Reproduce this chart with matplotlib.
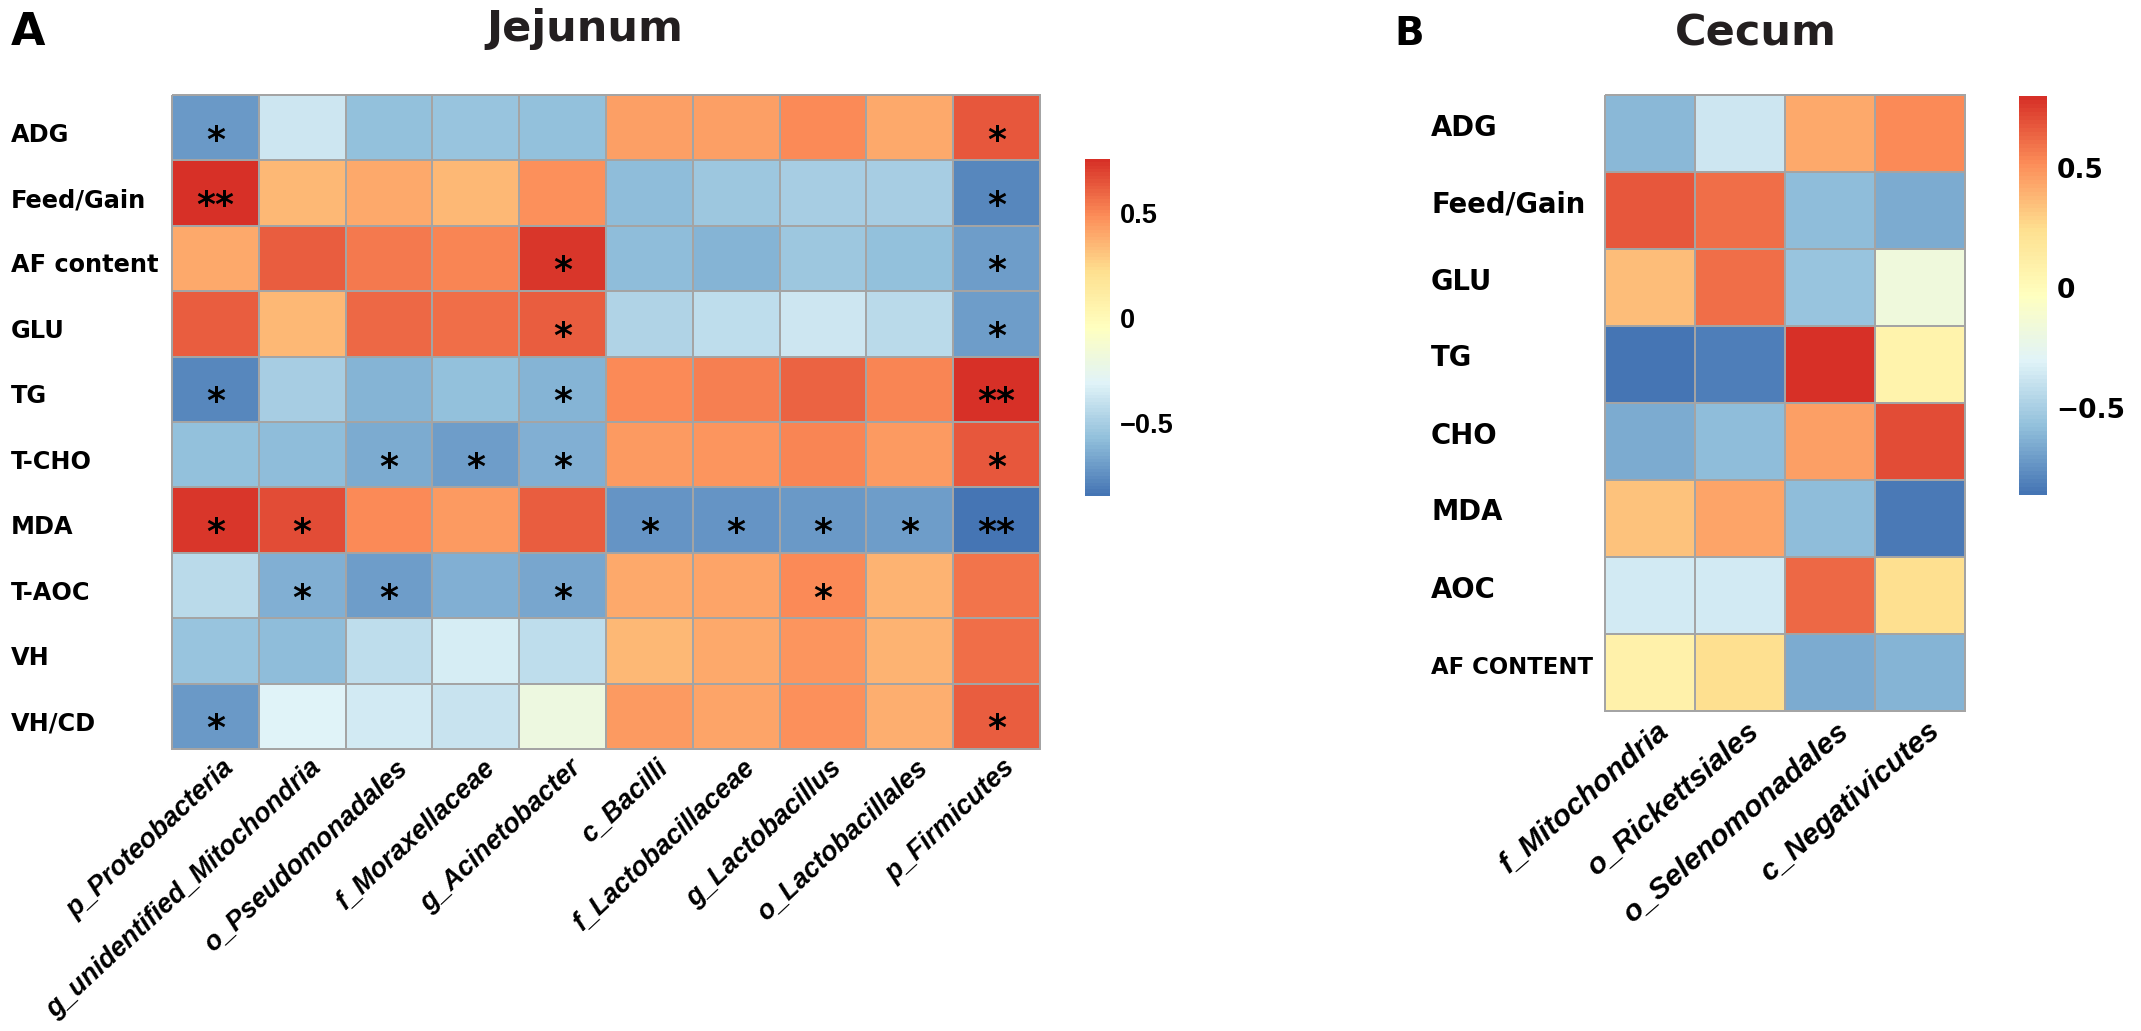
import matplotlib.pyplot as plt
import numpy as np
from matplotlib.colors import LinearSegmentedColormap
from matplotlib.transforms import offset_copy, blended_transform_factory
from matplotlib.ticker import FixedLocator, FuncFormatter

# ---- data: correlation (r) between host indices and bacterial taxa ----
jej_rows = ['ADG', 'Feed/Gain', 'AF content', 'GLU', 'TG', 'T-CHO', 'MDA',
            'T-AOC', 'VH', 'VH/CD']
jej_cols = ['p_Proteobacteria', 'g_unidentified_Mitochondria', 'o_Pseudomonadales',
            'f_Moraxellaceae', 'g_Acinetobacter', 'c_Bacilli', 'f_Lactobacillaceae',
            'g_Lactobacillus', 'o_Lactobacillales', 'p_Firmicutes']
jej_r = [
    [-0.72, -0.38, -0.575, -0.55, -0.57, 0.43, 0.43, 0.50, 0.40, 0.64],
    [0.76, 0.355, 0.40, 0.355, 0.48, -0.59, -0.535, -0.50, -0.51, -0.78],
    [0.40, 0.62, 0.545, 0.51, 0.73, -0.59, -0.61, -0.535, -0.575, -0.705],
    [0.625, 0.355, 0.59, 0.58, 0.62, -0.466, -0.43, -0.375, -0.446, -0.69],
    [-0.78, -0.497, -0.61, -0.575, -0.61, 0.49, 0.53, 0.60, 0.515, 0.75],
    [-0.57, -0.585, -0.645, -0.70, -0.635, 0.45, 0.455, 0.51, 0.445, 0.635],
    [0.74, 0.67, 0.50, 0.44, 0.625, -0.737, -0.73, -0.72, -0.70, -0.85],
    [-0.446, -0.625, -0.705, -0.625, -0.67, 0.39, 0.42, 0.50, 0.37, 0.56],
    [-0.545, -0.59, -0.425, -0.345, -0.43, 0.355, 0.395, 0.46, 0.37, 0.57],
    [-0.71, -0.31, -0.36, -0.395, -0.20, 0.445, 0.41, 0.48, 0.385, 0.62],
]
jej_sig = [
    ['*', '', '', '', '', '', '', '', '', '*'],
    ['**', '', '', '', '', '', '', '', '', '*'],
    ['', '', '', '', '*', '', '', '', '', '*'],
    ['', '', '', '', '*', '', '', '', '', '*'],
    ['*', '', '', '', '*', '', '', '', '', '**'],
    ['', '', '*', '*', '*', '', '', '', '', '*'],
    ['*', '*', '', '', '', '*', '*', '*', '*', '**'],
    ['', '*', '*', '', '*', '', '', '*', '', ''],
    ['', '', '', '', '', '', '', '', '', ''],
    ['*', '', '', '', '', '', '', '', '', '*'],
]

cec_rows = ['ADG', 'Feed/Gain', 'GLU', 'TG', 'CHO', 'MDA', 'AOC', 'AF CONTENT']
cec_cols = ['f_Mitochondria', 'o_Rickettsiales', 'o_Selenomonadales', 'c_Negativicutes']
cec_r = [
    [-0.61, -0.37, 0.43, 0.53],
    [0.67, 0.61, -0.58, -0.66],
    [0.354, 0.61, -0.56, -0.17],
    [-0.86, -0.82, 0.80, 0.08],
    [-0.65, -0.58, 0.46, 0.71],
    [0.35, 0.45, -0.59, -0.83],
    [-0.36, -0.35, 0.63, 0.25],
    [0.10, 0.24, -0.66, -0.62],
]

cbar_ticks = [-0.5, 0, 0.5]

# pheatmap default palette: rev(brewer RdYlBu, 7) -> 100 colours
pal = ['#4575B4', '#91BFDB', '#E0F3F8', '#FFFFBF', '#FEE090', '#FC8D59', '#D73027']
cmap = LinearSegmentedColormap.from_list('rdylbu7', pal, N=100)

W, H, DPI = 2141, 1031, 100
fig = plt.figure(figsize=(W / DPI, H / DPI), dpi=DPI)
BOLD = 'DejaVu Sans'
ARIAL = 'Liberation Sans'


def px_axes(x0, y0, x1, y1):
    # pixel box (top-left origin) -> figure axes
    return fig.add_axes([x0 / W, 1 - y1 / H, (x1 - x0) / W, (y1 - y0) / H])


def heatmap(box, rows, cols, vals, sig, label_x, row_fs, col_fs, col_rot, cbox,
            cb_font, row_dy, row_sizes=None):
    data = np.array(vals)
    vmin, vmax = data.min(), data.max()
    ax = px_axes(*box)
    mesh = ax.pcolormesh(data, cmap=cmap, vmin=vmin, vmax=vmax,
                         edgecolors='#a4a4a4', linewidth=1.4)
    mesh.set_clip_on(False)
    ax.set_xlim(0, len(cols))
    ax.set_ylim(len(rows), 0)
    ax.axis('off')

    # significance stars
    star_tr = offset_copy(ax.transData, fig=fig, x=0, y=-23, units='dots')
    if sig is not None:
        for i, row in enumerate(sig):
            for j, s in enumerate(row):
                if s:
                    ax.text(j + 0.5, i + 0.5, s, transform=star_tr, ha='center',
                            va='baseline', fontsize=26, fontweight='bold',
                            family=BOLD, color='black')

    # row labels
    lab_tr = offset_copy(blended_transform_factory(fig.transFigure, ax.transData),
                         fig=fig, x=0, y=row_dy, units='dots')
    for i, name in enumerate(rows):
        fs = row_sizes[i] if row_sizes else row_fs
        ax.text(label_x / W, i + 0.5, name, transform=lab_tr, ha='left',
                va='baseline', fontsize=fs, fontweight='bold', family=BOLD)

    # column labels, rotated
    col_tr = offset_copy(ax.transData, fig=fig, x=6, y=-6, units='dots')
    for j, name in enumerate(cols):
        ax.text(j + 0.5, len(rows), name, transform=col_tr, rotation=col_rot,
                rotation_mode='anchor', ha='right', va='top', fontsize=col_fs,
                fontweight='bold', style='italic', family=ARIAL)

    # legend bar
    cax = px_axes(*cbox)
    cb = fig.colorbar(mesh, cax=cax)
    cb.outline.set_visible(False)
    cb.set_ticks(FixedLocator(cbar_ticks))
    cb.ax.yaxis.set_major_formatter(
        FuncFormatter(lambda v, p: f'{v:g}'.replace('-', '\u2212')))
    cax.tick_params(length=0, pad=7)
    for t in cax.get_yticklabels():
        t.set_fontsize(cb_font[1])
        t.set_fontweight('bold')
        t.set_family(cb_font[0])
    return ax


heatmap((172, 95, 1040, 749), jej_rows, jej_cols, jej_r, jej_sig, 11, 17.3, 19.3, 43,
        (1085, 159, 1110, 496), (ARIAL, 19.5), row_dy=-14)
heatmap((1605, 95, 1965, 711), cec_rows, cec_cols, cec_r, None, 1431, 19.8, 21.5, 41,
        (2019, 96, 2047, 495), (BOLD, 19), row_dy=-2,
        row_sizes=[19.8] * 7 + [16.4])

fig.text(585 / W, 1 - 41 / H, 'Jejunum', ha='center', va='baseline',
         fontsize=31, fontweight='bold', family=BOLD, color='#231f20')
fig.text(1756 / W, 1 - 45 / H, 'Cecum', ha='center', va='baseline',
         fontsize=31, fontweight='bold', family=BOLD, color='#231f20')
fig.text(11 / W, 1 - 45 / H, 'A', ha='left', va='baseline',
         fontsize=32, fontweight='bold', family=BOLD)
fig.text(1394 / W, 1 - 45 / H, 'B', ha='left', va='baseline',
         fontsize=28, fontweight='bold', family=BOLD)

fig.savefig('out.png', dpi=DPI, facecolor='white')
